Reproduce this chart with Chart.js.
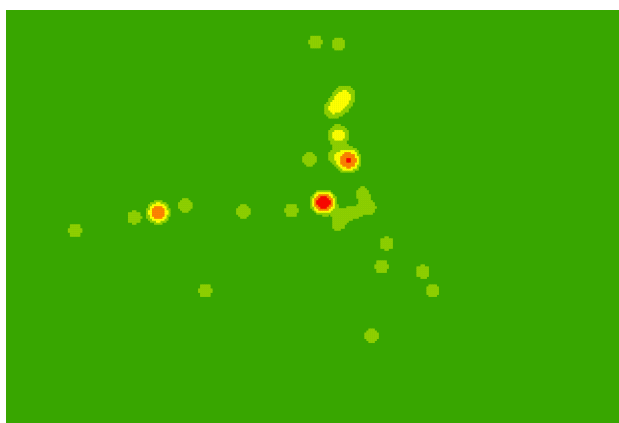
<!DOCTYPE html>
<html>
<head>
<meta charset="utf-8">
<script src="https://cdn.jsdelivr.net/npm/chart.js@4.4.1/dist/chart.umd.min.js"></script>
<style>
  html, body { margin: 0; padding: 0; background: #ffffff; }
  #wrap { width: 619px; height: 423px; }
  canvas { display: block; }
</style>
</head>
<body>
<div id="wrap"><canvas id="chart" width="619" height="423"></canvas></div>
<script>
// Hotspot sources of the density surface (grid units), with peak weight and spread.
const hotspotX      = [154.5, 166, 151.5, 89.5, 118.5, 142.5, 64, 34.5, 190, 187.5, 208, 213, 99.5, 182.5,
                       158.5, 76, 171, 166, 169.5, 166, 162, 163.5,
                       178, 182, 175, 168.5, 165.5, 179];
const hotspotY      = [190, 189, 131.5, 108.5, 105.5, 106, 102.5, 96, 89.5, 78, 75.5, 66, 66, 43.5,
                       110, 105, 131, 143.5, 163.5, 158.5, 155.5, 133,
                       115, 107, 105, 104, 99, 111.5];
const hotspotWeight = [1.8, 1.8, 1.8, 1.8, 1.75, 1.8, 1.8, 1.8, 1.8, 1.8, 1.8, 1.8, 1.8, 1.8,
                       10.45, 5.9, 6.36, 2.7, 2.1, 2.1, 1.2, 1.4,
                       1.5, 1.4, 1.3, 1.4, 1.4, 0.7];
const hotspotSpread = [3, 3, 3, 3, 3, 3, 3, 3, 3, 3, 3, 3, 3, 3,
                       3, 3.1, 3.38, 3.55, 3.8, 3.8, 3, 3,
                       2.8, 3, 3, 3.4, 3.1, 2.5];

// Contour levels of the density and their fills.
const levelThresholds = [1, 2, 3.5, 6];
const levelColors = ['#8fcf00', '#ffff00', '#ff8000', '#ff0000'];
const backgroundColor = '#38a600';

// Grid extent (one cell per unit).
const gridCols = 306;
const gridRows = 206;

function density(x, y) {
  let v = 0;
  for (let k = 0; k < hotspotX.length; k++) {
    const dx = x - hotspotX[k];
    const dy = y - hotspotY[k];
    const s = hotspotSpread[k];
    v += hotspotWeight[k] * Math.exp(-(dx * dx + dy * dy) / (2 * s * s));
  }
  return v;
}

// Bucket every grid cell into its contour band; below the first band is the plot background.
const bands = levelThresholds.map(() => []);
for (let i = 0; i < gridCols; i++) {
  for (let j = 0; j < gridRows; j++) {
    const cx = i + 0.5, cy = j + 0.5;
    const v = density(cx, cy);
    let lvl = -1;
    for (let t = 0; t < levelThresholds.length; t++) {
      if (v >= levelThresholds[t]) lvl = t;
    }
    if (lvl >= 0) bands[lvl].push({ x: cx, y: cy });
  }
}

const areaFill = {
  id: 'areaFill',
  beforeDatasetsDraw(chart) {
    const { ctx, chartArea } = chart;
    ctx.save();
    ctx.fillStyle = backgroundColor;
    ctx.fillRect(chartArea.left, chartArea.top, chartArea.right - chartArea.left, chartArea.bottom - chartArea.top);
    ctx.restore();
  }
};

new Chart(document.getElementById('chart'), {
  type: 'scatter',
  data: {
    datasets: bands.map((pts, t) => ({
      label: 'level ' + (t + 1),
      data: pts,
      order: levelThresholds.length - t,   // higher bands drawn on top
      pointStyle: 'rect',
      pointRadius: 1.75,
      pointHoverRadius: 1.75,
      borderWidth: 0,
      backgroundColor: levelColors[t],
      borderColor: levelColors[t]
    }))
  },
  options: {
    responsive: false,
    animation: false,
    events: [],
    layout: { autoPadding: false, padding: { left: 6, top: 10, right: 0, bottom: 0 } },
    plugins: { legend: { display: false }, tooltip: { enabled: false } },
    scales: {
      x: { type: 'linear', min: 0, max: gridCols, display: false },
      y: { type: 'linear', min: 0, max: gridRows, display: false }
    }
  },
  plugins: [areaFill]
});
</script>
</body>
</html>
